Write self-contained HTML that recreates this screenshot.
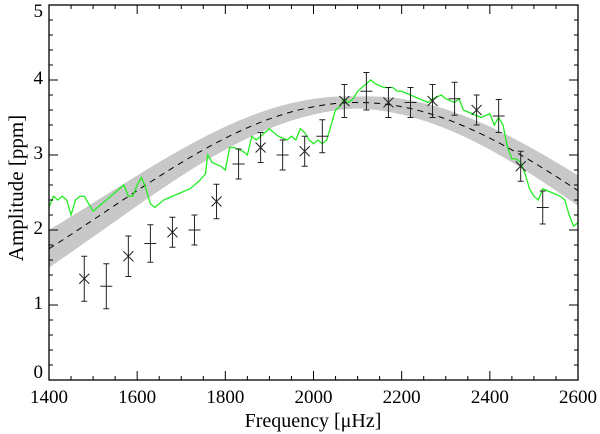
<!DOCTYPE html>
<html><head><meta charset="utf-8"><style>
html,body{margin:0;padding:0;background:#fff;}
svg{display:block;font-family:"Liberation Serif",serif;}
</style></head><body>
<svg id="chart" width="600" height="434" viewBox="0 0 600 434">
<g id="band"></g>
<g id="model"></g>
<g id="green"></g>
<g id="pts"></g>
<g id="axes"></g>
<text x="313" y="427" font-size="20" text-anchor="middle">Frequency [μHz]</text>
<text transform="translate(23,188) rotate(-90)" font-size="21" text-anchor="middle">Amplitude [ppm]</text>
</svg>
<script>
const ptFreq=[1480,1530,1580,1630,1680,1730,1780,1830,1880,1930,1980,2020,2070,2120,2170,2220,2270,2320,2370,2420,2470,2520];
const ptAmp=[1.35,1.25,1.65,1.82,1.97,2.0,2.38,2.88,3.1,3.0,3.05,3.25,3.72,3.85,3.7,3.7,3.72,3.75,3.6,3.52,2.85,2.3];
const ptErr=[0.3,0.3,0.27,0.25,0.2,0.2,0.23,0.2,0.2,0.2,0.2,0.22,0.22,0.25,0.2,0.2,0.22,0.22,0.2,0.22,0.2,0.22];
const ptMark=['x','+','x','+','x','+','x','+','x','+','x','+','x','+','x','+','x','+','x','+','x','+'];
const gFreq=[1400,1410,1420,1430,1440,1450,1460,1470,1480,1490,1500,1510,1520,1540,1560,1570,1580,1590,1600,1610,1620,1630,1640,1660,1680,1700,1720,1740,1755,1760,1770,1790,1800,1810,1820,1840,1850,1860,1870,1890,1900,1910,1920,1940,1950,1960,1970,1980,1990,2000,2010,2020,2030,2040,2050,2060,2070,2080,2090,2100,2110,2130,2140,2160,2180,2190,2200,2220,2240,2260,2270,2290,2300,2320,2330,2340,2360,2380,2400,2410,2420,2430,2440,2450,2460,2470,2480,2490,2500,2510,2520,2540,2560,2570,2580,2590,2600];
const gAmp=[2.3,2.45,2.4,2.45,2.4,2.2,2.4,2.45,2.45,2.35,2.25,2.3,2.35,2.45,2.55,2.6,2.45,2.45,2.6,2.7,2.55,2.35,2.3,2.4,2.45,2.5,2.55,2.65,2.75,3.0,2.9,2.85,2.8,3.1,3.1,3.05,3.0,3.25,3.2,3.3,3.35,3.3,3.25,3.2,3.25,3.2,3.35,3.3,3.2,3.15,3.2,3.15,3.2,3.4,3.6,3.65,3.75,3.7,3.75,3.85,3.9,4.0,3.95,3.9,3.9,3.85,3.85,3.8,3.75,3.7,3.75,3.8,3.75,3.7,3.75,3.6,3.55,3.5,3.55,3.4,3.5,3.4,3.1,2.95,2.95,2.9,2.75,2.55,2.45,2.4,2.55,2.5,2.45,2.4,2.2,2.05,2.1];
const modelPeak=3.7, modelCenter=2100, modelSigma=572, bandBase=0.08, bandGrow=0.14;
const xTicks=[1400,1600,1800,2000,2200,2400,2600];
const yTicks=[0,1,2,3,4,5];

const NS='http://www.w3.org/2000/svg';
const L=49,R=578,T=5,B=380;
const X=f=>L+(f-1400)/1200*(R-L);
const Y=a=>B-a/5*(B-T);
function mk(tag,attrs,parent){const e=document.createElementNS(NS,tag);for(const k in attrs)e.setAttribute(k,attrs[k]);parent.appendChild(e);return e;}
const model=f=>modelPeak*Math.exp(-((f-modelCenter)**2)/(2*modelSigma*modelSigma));
const half=f=>bandBase+bandGrow*Math.abs(f-modelCenter)/modelSigma;

let up=[],lo=[],mid=[];
for(let f=1400;f<=2600;f+=10){up.push(X(f)+','+Y(model(f)+half(f)));lo.unshift(X(f)+','+Y(model(f)-half(f)));mid.push(X(f)+','+Y(model(f)));}
const band=mk('polygon',{points:up.concat(lo).join(' '),fill:'#c8c8c8'},document.getElementById('band'));


const ml=mk('polyline',{points:mid.join(' '),fill:'none',stroke:'#000','stroke-width':1,'stroke-dasharray':'6,5'},document.getElementById('model'));



const gl=mk('polyline',{points:gFreq.map((f,i)=>X(f)+','+Y(gAmp[i])).join(' '),fill:'none',stroke:'#22ee22','stroke-width':1.3},document.getElementById('green'));



const pg=document.getElementById('pts');
ptFreq.forEach((f,i)=>{
  const g=mk('g',{stroke:'#222','stroke-width':1},pg);
  
  
  const x=X(f),y=Y(ptAmp[i]),y1=Y(ptAmp[i]+ptErr[i]),y2=Y(ptAmp[i]-ptErr[i]);
  mk('line',{x1:x,x2:x,y1:y1,y2:y2},g);
  mk('line',{x1:x-3,x2:x+3,y1:y1,y2:y1},g);
  mk('line',{x1:x-3,x2:x+3,y1:y2,y2:y2},g);
  if(ptMark[i]==='x'){mk('line',{x1:x-5,x2:x+5,y1:y-5,y2:y+5},g);mk('line',{x1:x-5,x2:x+5,y1:y+5,y2:y-5},g);}
  else{mk('line',{x1:x-6,x2:x+6,y1:y,y2:y},g);}
});

const ax=document.getElementById('axes');
const fr=mk('rect',{x:L,y:T,width:R-L,height:B-T,fill:'none',stroke:'#000','stroke-width':1.3},ax);


for(let f=1400;f<=2600;f+=50){const x=X(f),len=(f%200===0)?9:4;
  mk('line',{x1:x,x2:x,y1:B,y2:B-len,stroke:'#000'},ax);mk('line',{x1:x,x2:x,y1:T,y2:T+len,stroke:'#000'},ax);}
for(let k=0;k<=25;k++){const a=k*0.2,y=Y(a),len=(k%5===0)?9:4;
  mk('line',{x1:L,x2:L+len,y1:y,y2:y,stroke:'#000'},ax);mk('line',{x1:R,x2:R-len,y1:y,y2:y,stroke:'#000'},ax);}
xTicks.forEach(v=>{const t=mk('text',{x:X(v),y:B+23,'font-size':19,'text-anchor':'middle'},ax);t.textContent=v;
  
  });
yTicks.forEach(v=>{const t=mk('text',{x:L-6,y:Math.max(Y(v)+4,T+12)-(v===0?6:0),'font-size':19,'text-anchor':'end'},ax);t.textContent=v;
  
  });
</script>
</body></html>
